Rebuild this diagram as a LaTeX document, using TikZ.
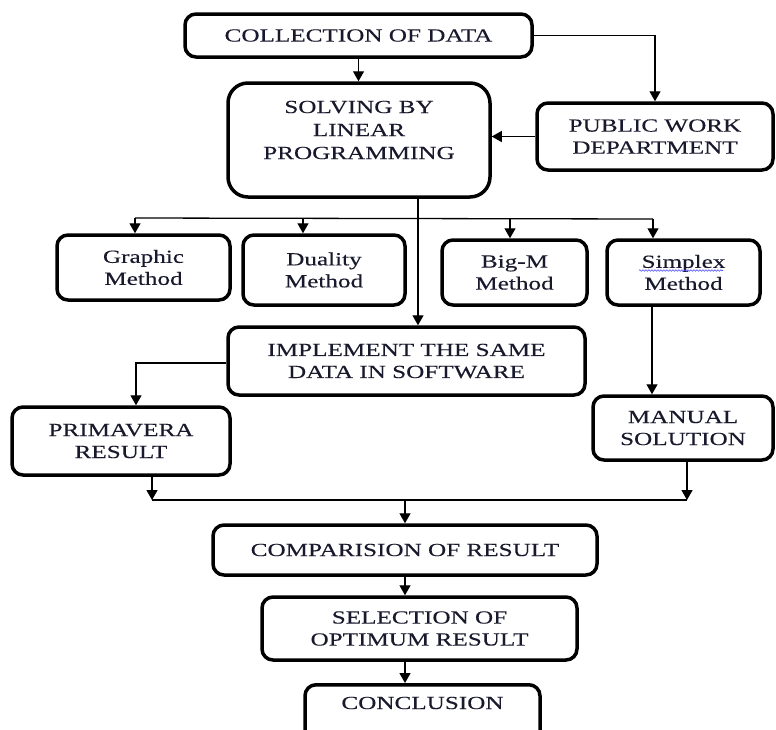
\documentclass[tikz,border=0pt]{standalone}
\usepackage{fontspec}
\setmainfont[FakeStretch=1.36,FakeBold=0.2]{Liberation Serif}
\usetikzlibrary{arrows.meta,calc,decorations.pathmorphing}
\definecolor{txtc}{RGB}{25,25,45}
\tikzset{
  box/.style={draw=black, line width=3.5pt, rounded corners=11pt, fill=white,
    align=center, inner sep=0pt, text=txtc,
    font=\fontsize{18.5}{22}\selectfont},
  lbl/.style={align=center, inner sep=0pt, text=txtc,
    font=\fontsize{18.5}{23}\selectfont},
  conn/.style={draw=black, line width=1.3pt},
  arr/.style={conn, -{Triangle[width=11pt,length=10pt]}}
}
\begin{document}
\begin{tikzpicture}[x=1pt,y=-1pt]
\clip (0,0) rectangle (776,729);
\fill[white] (0,0) rectangle (776,729);
% boxes
\node[box, minimum width=347pt, minimum height=43pt] (coll) at (358.5,35.5) {COLLECTION OF DATA};
\node[box, minimum width=236pt, minimum height=67pt] (pwd) at (655,136.5) {PUBLIC WORK\\DEPARTMENT};
\node[box, rounded corners=20pt, minimum width=262pt, minimum height=114pt] (solv) at (359,140) {};
\node[lbl] (solvt) at (359,130) {SOLVING BY\\LINEAR\\PROGRAMMING};
\node[box, minimum width=173pt, minimum height=65pt] (graph) at (143.5,267.5) {Graphic\\Method};
\node[box, minimum width=162pt, minimum height=70pt] (dual) at (324,270) {Duality\\Method};
\node[box, minimum width=145pt, minimum height=65pt] (bigm) at (514.5,272.5) {Big-M\\Method};
\node[box, minimum width=153pt, minimum height=65pt] (simp) at (683.5,272.5) {Simplex\\Method};
\node[box, minimum width=357pt, minimum height=68pt] (impl) at (406.5,361) {IMPLEMENT THE SAME\\DATA IN SOFTWARE};
\node[box, minimum width=218pt, minimum height=68pt] (prim) at (121,441) {PRIMAVERA\\RESULT};
\node[box, minimum width=180pt, minimum height=64pt] (man) at (683,428) {MANUAL\\SOLUTION};
\node[box, minimum width=384pt, minimum height=50pt] (comp) at (405,550) {COMPARISION OF RESULT};
\node[box, minimum width=315pt, minimum height=63pt] (sel) at (419.5,628.5) {SELECTION OF\\OPTIMUM RESULT};
\node[box, minimum width=235pt, minimum height=70pt, anchor=north] (concl) at (422.5,683) {};
\node[lbl] (conclt) at (422.5,703) {CONCLUSION};
% spell-check underline
\draw[blue!70, line width=0.6pt, decorate, decoration={snake, amplitude=0.8pt, segment length=3pt}]
  ($(simp.center)+(-44.5,-2)$) -- ($(simp.center)+(39.5,-2)$);
% connectors
\draw[arr] (coll.south) -- (coll.south |- solv.north);
\draw[arr] (coll.east) -| (pwd.north);
\draw[arr] (pwd.west) -- (solv.east |- pwd.west);
\coordinate (sv) at (418,197);
\draw[arr] (sv) -- (sv |- impl.north);
\coordinate (dl) at (135,218);
\coordinate (dr) at (653,219);
\draw[conn] (dl) -- (dr);
\coordinate (da) at (303,218);
\coordinate (ba) at (510,219);
\draw[arr] (dl) -- (dl |- graph.north);
\draw[arr] (da) -- (da |- dual.north);
\draw[arr] (ba) -- (ba |- bigm.north);
\draw[arr] (dr) -- (dr |- simp.north);
\coordinate (sm) at (652,305);
\draw[arr] (sm) -- (sm |- man.north);
\coordinate (pa) at (136,363);
\draw[arr] (impl.west |- pa) -- (pa) -- (pa |- prim.north);
\coordinate (jl) at (152,500);
\coordinate (jr) at (687,500);
\draw[conn] (jl) -- (jr);
\draw[arr] (jl |- prim.south) -- (jl);
\draw[arr] (jr |- man.south) -- (jr);
\draw[arr] (comp.north |- jl) -- (comp.north);
\draw[arr] (comp.south) -- (comp.south |- sel.north);
\draw[arr] (comp.south |- sel.south) -- (comp.south |- concl.north);
\end{tikzpicture}
\end{document}
